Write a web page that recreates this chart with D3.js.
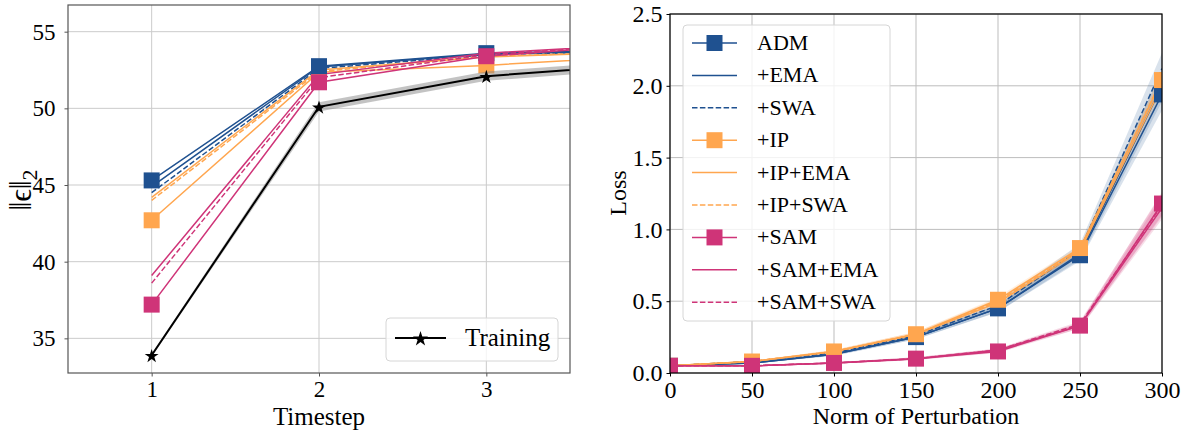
<!DOCTYPE html>
<html>
<head>
<meta charset="utf-8">
<script src="https://cdn.jsdelivr.net/npm/d3@7"></script>
<style>
  body { margin: 0; background: #fff; }
  svg, svg text { font-family: "Liberation Serif", "DejaVu Serif", serif; }
</style>
</head>
<body>
<svg width="1186" height="434"></svg>
<script>
// ---- data: left panel (norm of predicted noise per timestep) ----
const timesteps = [1, 2, 3, 4]
const normAdm = [45.3, 52.75, 53.6, 53.8]
const normAdmEma = [44.9, 52.7, 53.55, 53.75]
const normAdmSwa = [44.5, 52.6, 53.5, 53.75]
const normIp = [42.7, 52.35, 52.8, 53.45]
const normIpEma = [44.2, 52.5, 53.35, 53.7]
const normIpSwa = [44.0, 52.4, 53.4, 53.7]
const normSam = [37.2, 51.7, 53.4, 54.2]
const normSamEma = [39.1, 52.2, 53.6, 54.2]
const normSamSwa = [38.6, 52.0, 53.5, 54.2]
const normTrain = [33.9, 50.1, 52.1, 52.9]
const normTrainStd = [0.1, 0.3, 0.3, 0.3]
const leftYTicks = [35, 40, 45, 50, 55]
const leftXTicks = [1, 2, 3]

// ---- data: right panel (loss vs norm of perturbation) ----
const perturb = [0, 50, 100, 150, 200, 250, 300]
const lossAdm = [0.05, 0.07, 0.13, 0.25, 0.45, 0.82, 1.94]
const lossAdmEma = [0.05, 0.07, 0.13, 0.25, 0.45, 0.83, 2.00]
const lossAdmSwa = [0.05, 0.08, 0.14, 0.26, 0.47, 0.86, 2.12]
const lossIp = [0.05, 0.08, 0.15, 0.27, 0.51, 0.87, 2.04]
const lossIpEma = [0.05, 0.08, 0.15, 0.27, 0.49, 0.85, 2.00]
const lossIpSwa = [0.05, 0.08, 0.15, 0.27, 0.50, 0.86, 2.05]
const lossSam = [0.05, 0.05, 0.07, 0.10, 0.15, 0.33, 1.18]
const lossSamEma = [0.05, 0.05, 0.07, 0.10, 0.16, 0.33, 1.15]
const lossSamSwa = [0.05, 0.05, 0.07, 0.10, 0.16, 0.34, 1.17]
const stdAdm = [0.005, 0.005, 0.01, 0.015, 0.025, 0.04, 0.11]
const stdIp = [0.005, 0.005, 0.01, 0.015, 0.02, 0.02, 0.05]
const stdSam = [0.005, 0.005, 0.005, 0.01, 0.01, 0.02, 0.08]
const rightYTicks = [0, 0.5, 1.0, 1.5, 2.0, 2.5]
const rightXTicks = [0, 50, 100, 150, 200, 250, 300]

const BLUE = '#1f5190'
const ORANGE = '#ffa64f'
const PINK = '#cf3478'
const FONT = '"Liberation Serif", "DejaVu Serif", serif'

const series = [
  { name: 'ADM', color: BLUE, dash: null, marker: true, left: normAdm, right: lossAdm, std: stdAdm },
  { name: '+EMA', color: BLUE, dash: null, marker: false, left: normAdmEma, right: lossAdmEma, std: stdAdm },
  { name: '+SWA', color: BLUE, dash: '5.5,2.4', marker: false, left: normAdmSwa, right: lossAdmSwa, std: stdAdm },
  { name: '+IP', color: ORANGE, dash: null, marker: true, left: normIp, right: lossIp, std: stdIp },
  { name: '+IP+EMA', color: ORANGE, dash: null, marker: false, left: normIpEma, right: lossIpEma, std: stdIp },
  { name: '+IP+SWA', color: ORANGE, dash: '5.5,2.4', marker: false, left: normIpSwa, right: lossIpSwa, std: stdIp },
  { name: '+SAM', color: PINK, dash: null, marker: true, left: normSam, right: lossSam, std: stdSam },
  { name: '+SAM+EMA', color: PINK, dash: null, marker: false, left: normSamEma, right: lossSamEma, std: stdSam },
  { name: '+SAM+SWA', color: PINK, dash: '5.5,2.4', marker: false, left: normSamSwa, right: lossSamSwa, std: stdSam }
]

const svg = d3.select('svg')
const MS = 16

function drawFrame(g, x, y, xTicks, yTicks, fmtX, fmtY, fs, yPad, gridColor, spineColor, clipId) {
  const [x0, x1] = x.range()
  const [y0, y1] = y.range()
  g.append('defs').append('clipPath').attr('id', clipId)
    .append('rect').attr('x', x0).attr('y', y1).attr('width', x1 - x0).attr('height', y0 - y1)
  g.append('g').selectAll('line').data(xTicks).enter().append('line')
    .attr('x1', d => x(d)).attr('x2', d => x(d)).attr('y1', y1).attr('y2', y0)
    .attr('stroke', gridColor).attr('stroke-width', 1)
  g.append('g').selectAll('line').data(yTicks).enter().append('line')
    .attr('y1', d => y(d)).attr('y2', d => y(d)).attr('x1', x0).attr('x2', x1)
    .attr('stroke', gridColor).attr('stroke-width', 1)

  const xAxis = g.append('g').attr('transform', `translate(0,${y0})`)
    .call(d3.axisBottom(x).tickValues(xTicks).tickFormat(fmtX).tickSize(3.5).tickPadding(4))
  const yAxis = g.append('g').attr('transform', `translate(${x0},0)`)
    .call(d3.axisLeft(y).tickValues(yTicks).tickFormat(fmtY).tickSize(3.5).tickPadding(yPad))
  ;[xAxis, yAxis].forEach(a => {
    a.attr('font-family', FONT).attr('font-size', fs)
    a.select('.domain').remove()
    a.selectAll('line').attr('stroke', spineColor)
    a.selectAll('text').attr('fill', '#000').attr('font-family', FONT).attr('font-size', fs)
  })
  return () => g.append('rect').attr('x', x0).attr('y', y1).attr('width', x1 - x0).attr('height', y0 - y1)
    .attr('fill', 'none').attr('stroke', spineColor).attr('stroke-width', 1.2)
}

// ================= LEFT PANEL =================
{
  const x = d3.scaleLinear().domain([0.5, 3.5]).range([68, 570])
  const y = d3.scaleLinear().domain([32.74, 56.74]).range([373, 5])
  const g = svg.append('g')
  const spines = drawFrame(g, x, y, leftXTicks, leftYTicks, d3.format('d'), d3.format('d'), 23, 9, '#cbcbcb', '#555', 'clipL')
  const plot = g.append('g').attr('clip-path', 'url(#clipL)')
  const line = d3.line().x((d, i) => x(timesteps[i])).y(d => y(d))

  series.forEach(s => {
    plot.append('path').attr('d', line(s.left)).attr('fill', 'none')
      .attr('stroke', s.color).attr('stroke-width', 1.5)
      .attr('stroke-dasharray', s.dash)
  })
  // IP markers sit underneath ADM and SAM in this panel
  const leftOrder = ['+IP', 'ADM', '+SAM']
  leftOrder.map(n => series.find(s => s.name === n)).forEach(s => {
    plot.append('g').selectAll('rect').data(s.left).enter().append('rect')
      .attr('x', (d, i) => x(timesteps[i]) - MS / 2).attr('y', d => y(d) - MS / 2)
      .attr('width', MS).attr('height', MS).attr('fill', s.color)
  })

  // training curve with std band
  const band = d3.area().x((d, i) => x(timesteps[i]))
    .y0((d, i) => y(d - normTrainStd[i])).y1((d, i) => y(d + normTrainStd[i]))
  plot.append('path').attr('d', band(normTrain)).attr('fill', '#888').attr('opacity', 0.5)
  plot.append('path').attr('d', line(normTrain)).attr('fill', 'none')
    .attr('stroke', '#000').attr('stroke-width', 2)
  const star = d3.symbol().type(d3.symbolStar).size(60)
  plot.append('g').selectAll('path').data(normTrain).enter().append('path')
    .attr('d', star).attr('transform', (d, i) => `translate(${x(timesteps[i])},${y(d) + 1})`)
    .attr('fill', '#000')

  spines()

  g.append('text').attr('x', (68 + 570) / 2).attr('y', 425).attr('text-anchor', 'middle')
    .style('font-size', '25px').text('Timestep')
  const yl = g.append('text').attr('transform', 'translate(31,190) rotate(-90)')
    .attr('text-anchor', 'middle').style('font-size', '31px')
  yl.append('tspan').text('‖ϵ‖')
  yl.append('tspan').attr('dy', 6).style('font-size', '22px').text('2')

  // legend
  const lg = g.append('g')
  lg.append('rect').attr('x', 386).attr('y', 318).attr('width', 172).attr('height', 43)
    .attr('rx', 4).attr('fill', '#fff').attr('fill-opacity', 0.8).attr('stroke', '#d6d6d6')
  lg.append('line').attr('x1', 395).attr('x2', 446).attr('y1', 338).attr('y2', 338)
    .attr('stroke', '#000').attr('stroke-width', 2)
  lg.append('path').attr('d', d3.symbol().type(d3.symbolStar).size(70)).attr('transform', 'translate(420.5,339)')
    .attr('fill', '#000')
  lg.append('text').attr('x', 465).attr('y', 346).style('font-size', '25px').text('Training')
}

// ================= RIGHT PANEL =================
{
  const x = d3.scaleLinear().domain([0, 300]).range([670, 1162])
  const y = d3.scaleLinear().domain([0, 2.5]).range([373, 14])
  const g = svg.append('g')
  const spines = drawFrame(g, x, y, rightXTicks, rightYTicks, d3.format('d'), d3.format('.1f'), 24, 4, '#bdbdbd', '#000', 'clipR')
  const plot = g.append('g').attr('clip-path', 'url(#clipR)')
  const line = d3.line().x((d, i) => x(perturb[i])).y(d => y(d))

  series.forEach(s => {
    const band = d3.area().x((d, i) => x(perturb[i]))
      .y0((d, i) => y(d - s.std[i])).y1((d, i) => y(d + s.std[i]))
    plot.append('path').attr('d', band(s.right)).attr('fill', s.color).attr('opacity', 0.17)
  })
  series.forEach(s => {
    plot.append('path').attr('d', line(s.right)).attr('fill', 'none')
      .attr('stroke', s.color).attr('stroke-width', 1.5)
      .attr('stroke-dasharray', s.dash)
  })
  series.filter(s => s.marker).forEach(s => {
    plot.append('g').selectAll('rect').data(s.right).enter().append('rect')
      .attr('x', (d, i) => x(perturb[i]) - MS / 2).attr('y', d => y(d) - MS / 2)
      .attr('width', MS).attr('height', MS).attr('fill', s.color)
  })

  spines()

  g.append('text').attr('x', (670 + 1162) / 2).attr('y', 424).attr('text-anchor', 'middle')
    .style('font-size', '24px').text('Norm of Perturbation')
  g.append('text').attr('transform', 'translate(626,193) rotate(-90)')
    .attr('text-anchor', 'middle').style('font-size', '24px').text('Loss')

  // legend
  const lg = g.append('g')
  lg.append('rect').attr('x', 683).attr('y', 25).attr('width', 207).attr('height', 296)
    .attr('rx', 4).attr('fill', '#fff').attr('fill-opacity', 0.8).attr('stroke', '#d6d6d6')
  series.forEach((s, i) => {
    const cy = 43 + i * 32.4
    lg.append('line').attr('x1', 692).attr('x2', 737).attr('y1', cy).attr('y2', cy)
      .attr('stroke', s.color).attr('stroke-width', 1.5).attr('stroke-dasharray', s.dash)
    if (s.marker) {
      lg.append('rect').attr('x', 714.5 - MS / 2).attr('y', cy - MS / 2).attr('width', MS).attr('height', MS)
        .attr('fill', s.color)
    }
    lg.append('text').attr('x', 757).attr('y', cy + 7).style('font-size', '22px').text(s.name)
  })
}
</script>
</body>
</html>
